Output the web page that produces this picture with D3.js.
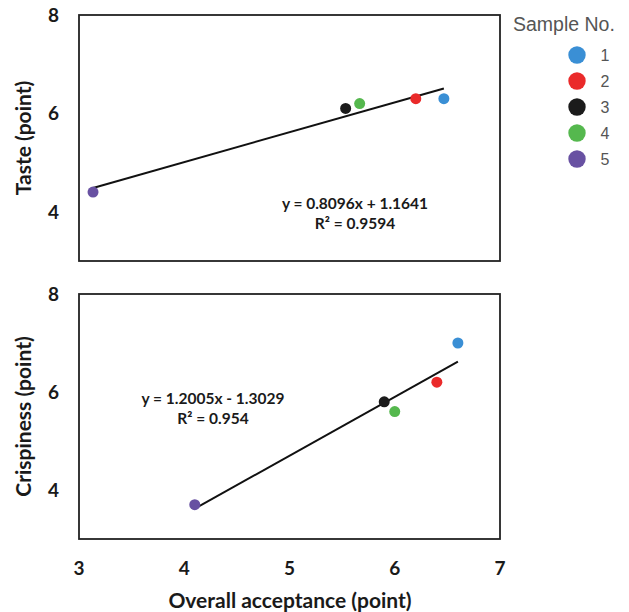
<!DOCTYPE html>
<html>
<head>
<meta charset="utf-8">
<script src="https://cdn.jsdelivr.net/npm/d3@7"></script>
<style>
  body { margin: 0; background: #fff; }
  text { font-family: Lato, "Open Sans", sans-serif; }
</style>
</head>
<body>
<div id="container"></div>
<script>
/* DATA */
const samples = ["1", "2", "3", "4", "5"];
const acceptance = [6.6, 6.4, 5.9, 6.0, 4.1];
const taste = [6.3, 6.3, 6.1, 6.2, 4.4];
const crispiness = [7.0, 6.2, 5.8, 5.6, 3.7];
const colors = ["#3a8fd5", "#ea2a2a", "#1b1b1b", "#55b84e", "#6851a2"];
const yTicks = [4, 6, 8];
const xTicks = [3, 4, 5, 6, 7];
const tasteEq = ["y = 0.8096x + 1.1641", "R² = 0.9594"];
const crispEq = ["y = 1.2005x - 1.3029", "R² = 0.954"];

/* CONSTANTS */
const width = 629, height = 612;
const left = 79, right = 500;

const svg = d3.select("#container")
  .append("svg")
  .attr("width", width)
  .attr("height", height);

// least squares fit, for the trend line
function fit(xs, ys) {
  const mx = d3.mean(xs), my = d3.mean(ys);
  const sxy = d3.sum(xs, (x, i) => (x - mx) * (ys[i] - my));
  const sxx = d3.sum(xs, x => (x - mx) * (x - mx));
  const b = sxy / sxx;
  return x => my + b * (x - mx);
}

function panel(top, bottom, xDomain, ys, yTitle, eq, eqPos, r) {
  const x = d3.scaleLinear().domain(xDomain).range([left, right]);
  const y = d3.scaleLinear().domain([3, 8]).range([bottom, top]);
  const g = svg.append("g");

  g.append("rect")
    .attr("x", left).attr("y", top)
    .attr("width", right - left).attr("height", bottom - top)
    .attr("fill", "none").attr("stroke", "#222").attr("stroke-width", 1.8);

  g.selectAll(".ytick")
    .data(yTicks)
    .join("text")
    .attr("x", left - 20)
    .attr("y", d => y(d))
    .attr("dy", "0.36em")
    .attr("text-anchor", "end")
    .style("font-size", "19px").style("font-weight", "bold").style("fill", "#1a1a1a")
    .text(d => d);

  g.append("text")
    .attr("transform", `translate(23,${(top + bottom) / 2}) rotate(-90)`)
    .attr("text-anchor", "middle")
    .attr("dy", "0.36em")
    .style("font-size", "21px").style("font-weight", "bold").style("fill", "#1a1a1a")
    .text(yTitle);

  const f = fit(acceptance, ys);
  const ext = d3.extent(acceptance);
  g.append("line")
    .attr("x1", x(ext[0])).attr("y1", y(f(ext[0])))
    .attr("x2", x(ext[1])).attr("y2", y(f(ext[1])))
    .attr("stroke", "#111").attr("stroke-width", 2);

  g.selectAll("circle")
    .data(acceptance)
    .join("circle")
    .attr("cx", d => x(d))
    .attr("cy", (d, i) => y(ys[i]))
    .attr("r", r)
    .attr("fill", (d, i) => colors[i]);

  g.selectAll(".eq")
    .data(eq)
    .join("text")
    .attr("x", eqPos[0])
    .attr("y", (d, i) => eqPos[1] + i * 20)
    .attr("dy", "0.36em")
    .attr("text-anchor", "middle")
    .style("font-size", "15.5px").style("font-weight", "bold").style("fill", "#1a1a1a")
    .text(d => d);

  return x;
}

// top panel has its own (hidden) x scale
panel(15, 261, [4, 7], taste, "Taste (point)", tasteEq, [355, 203], 5.5);
const xb = panel(294, 539, [3, 7], crispiness, "Crispiness (point)", crispEq, [213, 398], 5.5);

svg.selectAll(".xtick")
  .data(xTicks)
  .join("text")
  .attr("x", d => xb(d))
  .attr("y", 568)
  .attr("dy", "0.36em")
  .attr("text-anchor", "middle")
  .style("font-size", "19px").style("font-weight", "bold").style("fill", "#1a1a1a")
  .text(d => d);

svg.append("text")
  .attr("x", 290).attr("y", 600)
  .attr("dy", "0.36em")
  .attr("text-anchor", "middle")
  .style("font-size", "21px").style("font-weight", "bold").style("fill", "#1a1a1a")
  .text("Overall acceptance (point)");

/* LEGEND */
svg.append("text")
  .attr("x", 513).attr("y", 31)
  .style("font-family", "'Liberation Sans', Arial, sans-serif")
  .style("font-size", "19.5px").style("fill", "#555")
  .text("Sample No.");

const leg = svg.selectAll(".leg")
  .data(samples)
  .join("g")
  .attr("transform", (d, i) => `translate(577,${55 + i * 26})`);

leg.append("circle").attr("r", 8.7).attr("fill", (d, i) => colors[i]);
leg.append("text")
  .attr("x", 28).attr("dy", "0.36em")
  .attr("text-anchor", "middle")
  .style("font-family", "'Liberation Sans', Arial, sans-serif")
  .style("font-size", "16px").style("fill", "#555")
  .text(d => d);
</script>
</body>
</html>
